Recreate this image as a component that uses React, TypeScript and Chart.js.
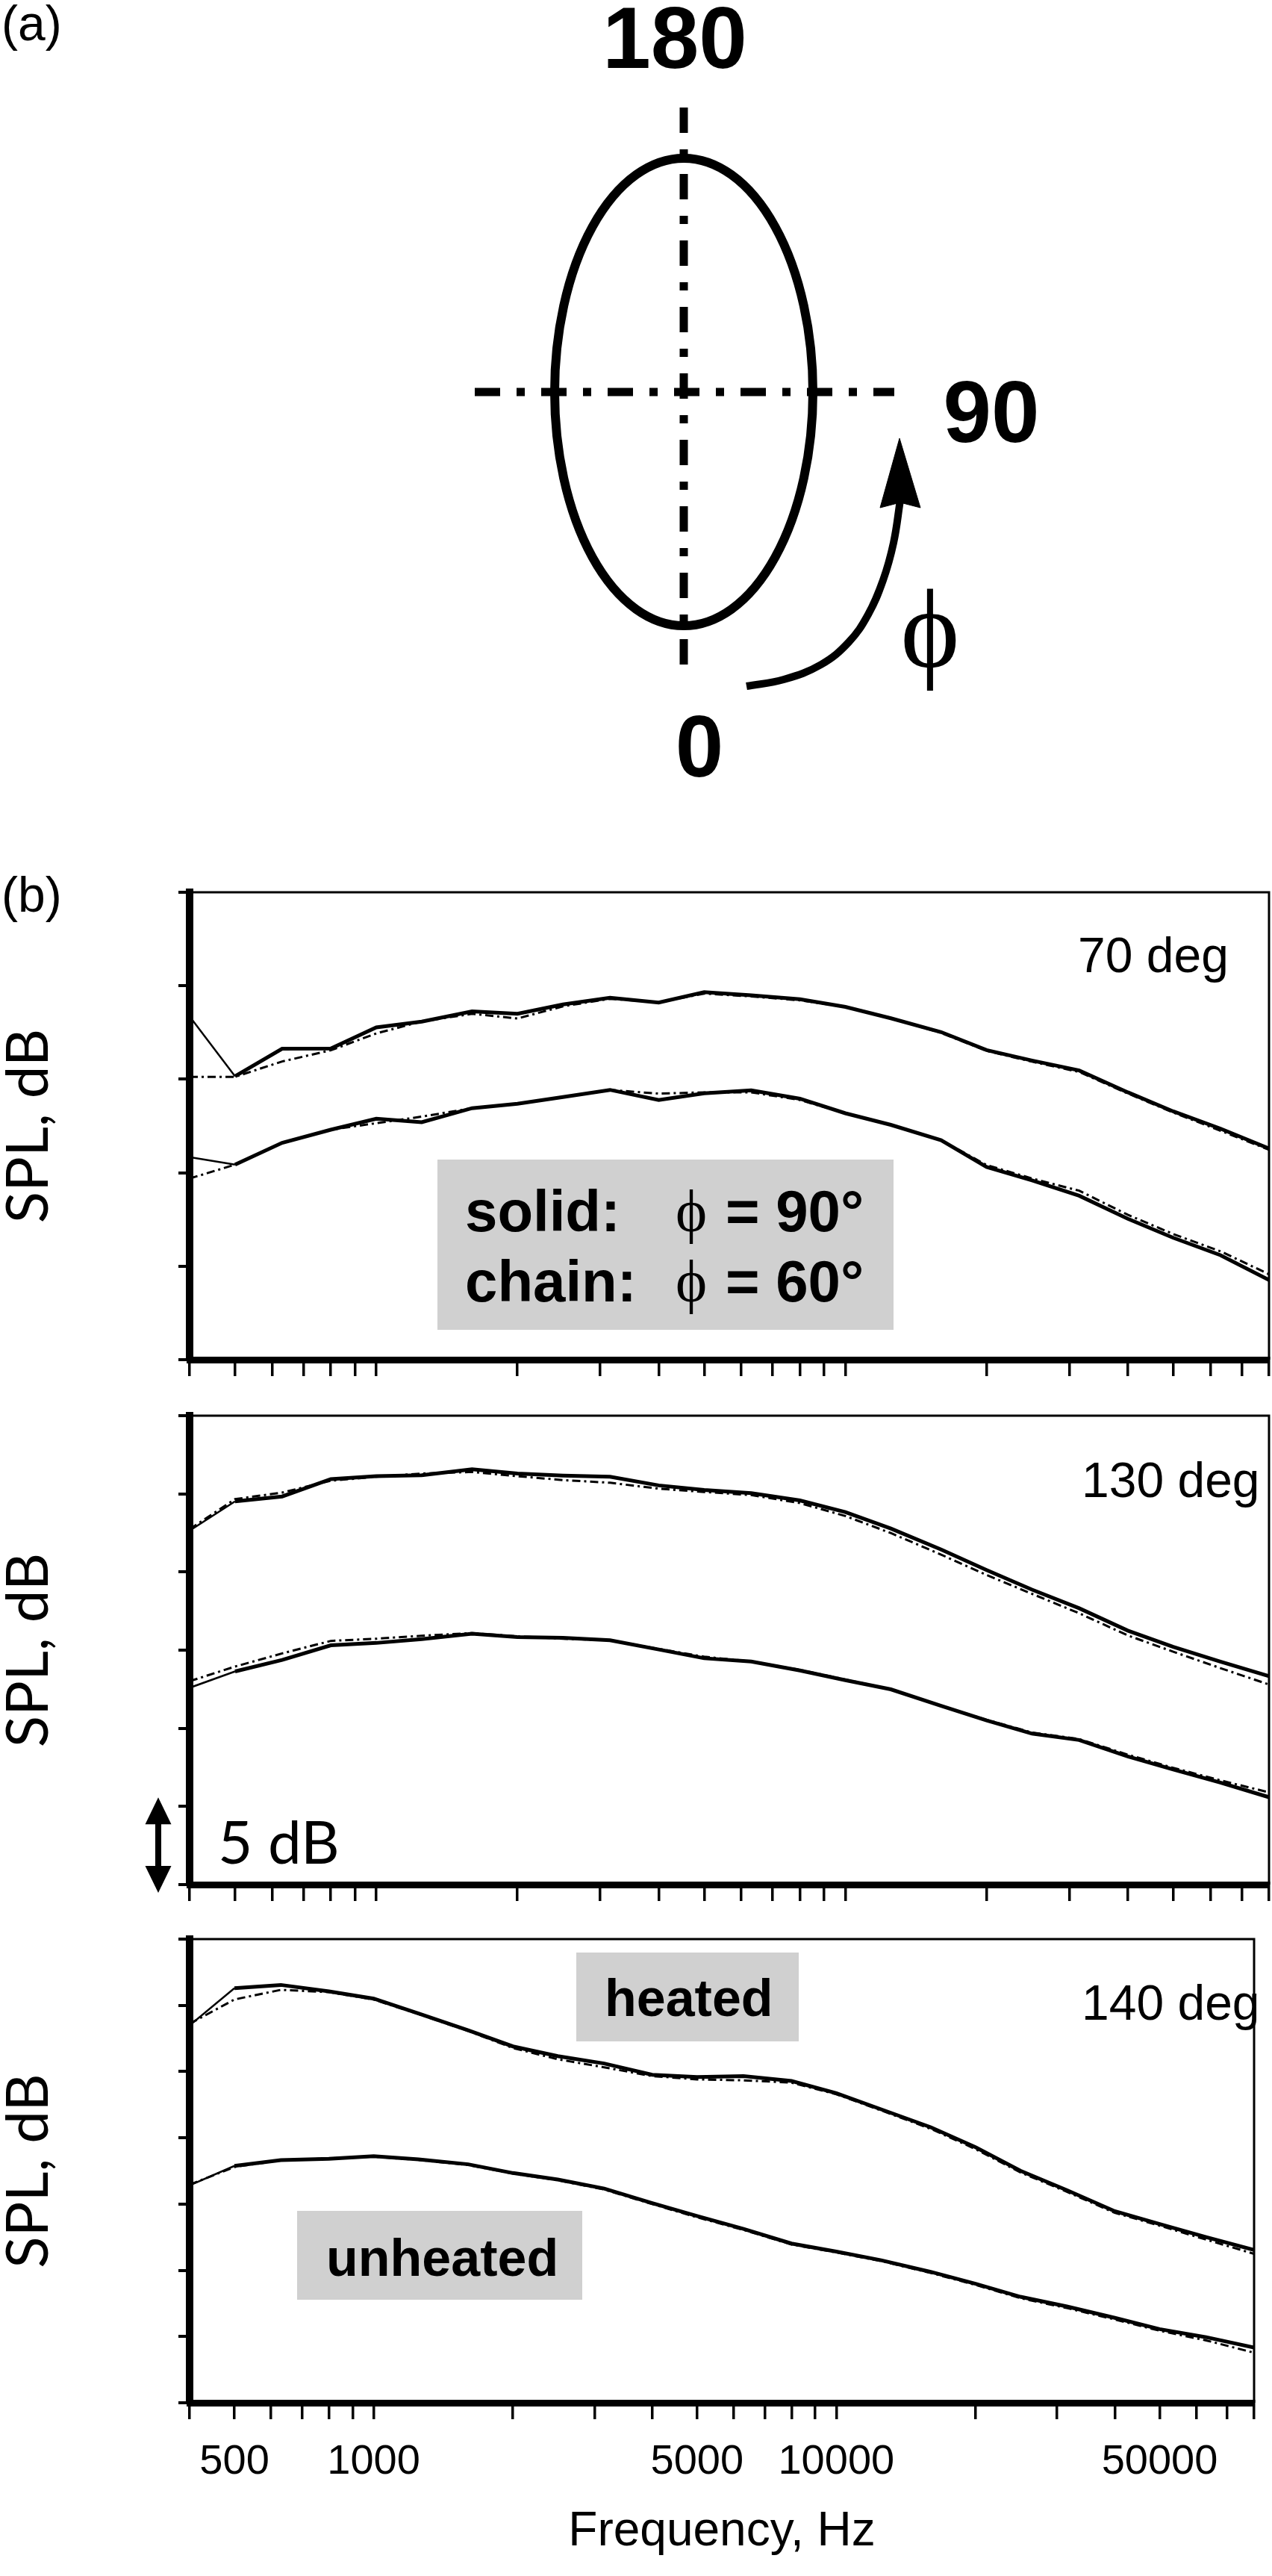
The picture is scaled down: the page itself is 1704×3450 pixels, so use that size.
import React, { useEffect, useRef } from "react";
import { Chart, registerables } from "chart.js";

Chart.register(...registerables);

// ---------------- data ----------------
const FREQ = [400, 500, 630, 800, 1000, 1250, 1600, 2000, 2500, 3150, 4000, 5000, 6300, 8000, 10000, 12500, 16000, 20000, 25000, 31500, 40000, 50000, 63000, 80000];

const X_TICKS = [400, 500, 600, 700, 800, 900, 1000, 2000, 3000, 4000, 5000, 6000, 7000, 8000, 9000, 10000, 20000, 30000, 40000, 50000, 60000, 70000, 80000];
const X_LABELS = [500, 1000, 5000, 10000, 50000];

// 70 deg panel (relative dB)
const P1_HEATED_90 = [18.36, 15.16, 16.63, 16.64, 17.77, 18.08, 18.63, 18.5, 19.0, 19.36, 19.1, 19.66, 19.49, 19.28, 18.87, 18.26, 17.52, 16.56, 16.0, 15.47, 14.3, 13.28, 12.36, 11.29];
const P1_HEATED_60 = [15.13, 15.13, 15.95, 16.55, 17.45, 18.09, 18.5, 18.25, 18.9, 19.3, 19.12, 19.58, 19.43, 19.22, 18.87, 18.26, 17.48, 16.52, 15.94, 15.39, 14.24, 13.22, 12.25, 11.23];
const P1_UNHEATED_90 = [10.83, 10.43, 11.6, 12.3, 12.89, 12.7, 13.45, 13.69, 14.05, 14.43, 13.89, 14.25, 14.41, 13.96, 13.18, 12.56, 11.74, 10.31, 9.59, 8.77, 7.54, 6.52, 5.59, 4.26];
const P1_UNHEATED_60 = [9.69, 10.43, 11.6, 12.3, 12.65, 13.0, 13.45, 13.69, 14.05, 14.43, 14.23, 14.3, 14.3, 13.89, 13.18, 12.56, 11.74, 10.41, 9.69, 9.04, 7.75, 6.72, 5.8, 4.57];

// 130 deg panel
const P2_HEATED_90 = [22.64, 24.52, 24.83, 25.94, 26.13, 26.19, 26.57, 26.3, 26.17, 26.09, 25.54, 25.25, 25.04, 24.58, 23.83, 22.78, 21.44, 20.12, 18.87, 17.68, 16.25, 15.21, 14.27, 13.33];
const P2_HEATED_60 = [22.74, 24.66, 25.08, 25.84, 26.09, 26.3, 26.4, 26.13, 25.88, 25.71, 25.33, 25.12, 24.92, 24.41, 23.58, 22.49, 21.11, 19.81, 18.6, 17.36, 15.94, 14.9, 13.85, 12.8];
const P2_UNHEATED_90 = [12.59, 13.64, 14.37, 15.31, 15.46, 15.71, 16.05, 15.84, 15.79, 15.63, 15.04, 14.48, 14.27, 13.7, 13.08, 12.49, 11.44, 10.5, 9.66, 9.25, 8.2, 7.36, 6.53, 5.59];
const P2_UNHEATED_60 = [13.01, 13.95, 14.79, 15.59, 15.73, 15.92, 16.09, 15.88, 15.73, 15.63, 15.08, 14.58, 14.27, 13.74, 13.12, 12.49, 11.44, 10.54, 9.73, 9.31, 8.31, 7.47, 6.67, 5.9];

// 140 deg panel
const P3_HEATED_90 = [28.49, 31.29, 31.54, 31.05, 30.51, 29.39, 28.12, 26.9, 26.17, 25.61, 24.76, 24.59, 24.66, 24.29, 23.37, 22.15, 20.8, 19.29, 17.51, 16.05, 14.46, 13.49, 12.51, 11.54];
const P3_HEATED_60 = [28.61, 30.44, 31.17, 31.0, 30.44, 29.34, 28.07, 26.78, 25.93, 25.32, 24.66, 24.41, 24.34, 24.17, 23.29, 22.07, 20.68, 19.15, 17.39, 15.93, 14.34, 13.37, 12.32, 11.24];
const P3_UNHEATED_90 = [16.41, 17.88, 18.32, 18.41, 18.61, 18.37, 18.0, 17.34, 16.85, 16.17, 15.07, 14.1, 13.12, 12.02, 11.41, 10.76, 9.88, 8.98, 8.0, 7.27, 6.41, 5.56, 4.95, 4.17];
const P3_UNHEATED_60 = [16.46, 17.8, 18.3, 18.45, 18.58, 18.33, 17.95, 17.3, 16.8, 16.1, 15.0, 14.0, 13.05, 11.95, 11.35, 10.7, 9.8, 8.9, 7.9, 7.15, 6.29, 5.44, 4.71, 3.78];

// schematic (a), in diagram units
const DIAG_V_LINE = [{ x: 0, y: 3.81 }, { x: 0, y: -3.84 }];
const DIAG_H_LINE = [{ x: -2.8, y: 0 }, { x: 2.82, y: 0 }];
const ARROW_PATH = [
  { x: 0.84, y: -3.94 }, { x: 1.34, y: -3.85 }, { x: 1.84, y: -3.65 }, { x: 2.21, y: -3.35 },
  { x: 2.47, y: -2.98 }, { x: 2.67, y: -2.52 }, { x: 2.81, y: -2.02 }, { x: 2.9, y: -1.45 },
];
const ARROW_HEAD = [
  { x: 2.89, y: -0.62 }, { x: 3.17, y: -1.55 }, { x: 2.9, y: -1.48 }, { x: 2.63, y: -1.55 }, { x: 2.89, y: -0.62 },
];
const ELLIPSE = { cx: 0, cy: 0, rx: 1.73, ry: 3.13 };
const DIAG_LABELS = [
  { text: "180", x: -0.12, y: 4.34 },
  { text: "90", x: 4.12, y: -0.67 },
  { text: "0", x: 0.21, y: -5.15 },
];
const PHI_LABEL = { text: "\u03D5", x: 3.3, y: -3.68 };

// ---------------- style ----------------
const SANS = '"Liberation Sans", Arial, Helvetica, sans-serif';
const LATO = 'Lato, "Open Sans", sans-serif';
const SERIF = '"Liberation Serif", "DejaVu Serif", "Times New Roman", serif';
const W = 1704;
const DIAG_DASH = [34, 22, 11, 22];

function Diagram() {
  const ref = useRef<HTMLCanvasElement | null>(null);
  useEffect(() => {
    const canvas = ref.current!;
    const deco = {
      id: "diagDeco",
      beforeDatasetsDraw(chart: any) {
        const { ctx } = chart;
        const xs = chart.scales.x, ys = chart.scales.y;
        const cx = xs.getPixelForValue(ELLIPSE.cx), cy = ys.getPixelForValue(ELLIPSE.cy);
        const rx = xs.getPixelForValue(ELLIPSE.cx + ELLIPSE.rx) - cx;
        const ry = cy - ys.getPixelForValue(ELLIPSE.cy + ELLIPSE.ry);
        ctx.save();
        ctx.beginPath();
        ctx.ellipse(cx, cy, rx, ry, 0, 0, Math.PI * 2);
        ctx.lineWidth = 12;
        ctx.strokeStyle = "#000";
        ctx.stroke();
        ctx.restore();
      },
      afterDraw(chart: any) {
        const { ctx } = chart;
        const xs = chart.scales.x, ys = chart.scales.y;
        ctx.save();
        ctx.fillStyle = "#000";
        ctx.textBaseline = "alphabetic";
        ctx.textAlign = "left";
        ctx.font = `66px ${SANS}`;
        ctx.fillText("(a)", 2, 54);
        ctx.textAlign = "center";
        ctx.font = `bold 116px ${SANS}`;
        for (const l of DIAG_LABELS) ctx.fillText(l.text, xs.getPixelForValue(l.x), ys.getPixelForValue(l.y));
        ctx.font = `150px ${SERIF}`;
        ctx.fillText(PHI_LABEL.text, xs.getPixelForValue(PHI_LABEL.x), ys.getPixelForValue(PHI_LABEL.y));
        ctx.restore();
      },
    };
    const chart = new Chart(canvas, {
      type: "scatter",
      data: {
        datasets: [
          { data: DIAG_V_LINE, showLine: true, borderColor: "#000", borderWidth: 11, borderDash: DIAG_DASH, borderCapStyle: "butt", pointRadius: 0 },
          { data: DIAG_H_LINE, showLine: true, borderColor: "#000", borderWidth: 11, borderDash: DIAG_DASH, borderCapStyle: "butt", pointRadius: 0 },
          { data: ARROW_PATH, showLine: true, borderColor: "#000", borderWidth: 10, tension: 0.4, pointRadius: 0 },
          { data: ARROW_HEAD, showLine: true, borderColor: "#000", borderWidth: 1, backgroundColor: "#000", fill: "shape", pointRadius: 0 },
        ],
      } as any,
      options: {
        animation: false,
        responsive: false,
        devicePixelRatio: 1,
        layout: { padding: 0 },
        plugins: { legend: { display: false }, tooltip: { enabled: false } },
        scales: {
          x: { type: "linear", min: -9.16, max: 7.88, display: false },
          y: { type: "linear", min: -6.25, max: 5.25, display: false },
        },
      } as any,
      plugins: [deco],
    });
    return () => chart.destroy();
  }, []);
  return <canvas ref={ref} width={W} height={1150} style={{ position: "absolute", left: 0, top: 0, width: W, height: 1150 }} />;
}

type Box = { x: number; y: number; w: number; h: number };
type Txt = { text: string; x: number; y: number; font: string };
type PanelProps = {
  top: number;
  padTop: number;
  plotH: number;
  xHeight: number;
  yMax: number;
  heated90: number[];
  heated60: number[];
  unheated90: number[];
  unheated60: number[];
  showXLabels: boolean;
  boxes: Box[];
  texts: Txt[];
  canvasTexts?: Txt[];
  scaleArrow?: boolean;
};

function pts(vals: number[]) {
  return FREQ.map((f, i) => ({ x: f, y: vals[i] }));
}

function Panel(p: PanelProps) {
  const ref = useRef<HTMLCanvasElement | null>(null);
  const height = p.padTop + p.plotH + p.xHeight;
  useEffect(() => {
    const canvas = ref.current!;
    const deco = {
      id: "panelDeco",
      beforeDatasetsDraw(chart: any) {
        const { ctx, chartArea } = chart;
        ctx.save();
        ctx.fillStyle = "#d0d0d0";
        for (const b of p.boxes) ctx.fillRect(chartArea.left + b.x, chartArea.top + b.y, b.w, b.h);
        ctx.restore();
      },
      afterDraw(chart: any) {
        const { ctx, chartArea } = chart;
        ctx.save();
        ctx.strokeStyle = "#000";
        ctx.lineWidth = 3;
        ctx.beginPath();
        ctx.moveTo(chartArea.left, chartArea.top);
        ctx.lineTo(chartArea.right, chartArea.top);
        ctx.lineTo(chartArea.right, chartArea.bottom);
        ctx.stroke();
        ctx.fillStyle = "#000";
        ctx.textAlign = "left";
        ctx.textBaseline = "alphabetic";
        for (const t of p.texts) {
          ctx.font = t.font;
          ctx.fillText(t.text, chartArea.left + t.x, chartArea.top + t.y);
        }
        for (const t of p.canvasTexts || []) {
          ctx.font = t.font;
          ctx.fillText(t.text, t.x, t.y);
        }
        if (p.scaleArrow) {
          const ys = chart.scales.y;
          const x = chartArea.left - 42;
          const yT = ys.getPixelForValue(5) - 12;
          const yB = ys.getPixelForValue(0) + 11;
          const hw = 17.5, hl = 36;
          ctx.lineWidth = 8;
          ctx.beginPath();
          ctx.moveTo(x, yT + hl - 4);
          ctx.lineTo(x, yB - hl + 4);
          ctx.stroke();
          ctx.beginPath();
          ctx.moveTo(x, yT);
          ctx.lineTo(x - hw, yT + hl);
          ctx.lineTo(x + hw, yT + hl);
          ctx.closePath();
          ctx.fill();
          ctx.beginPath();
          ctx.moveTo(x, yB);
          ctx.lineTo(x - hw, yB - hl);
          ctx.lineTo(x + hw, yB - hl);
          ctx.closePath();
          ctx.fill();
        }
        ctx.restore();
      },
    };
    const solid = (v: number[]) => ({
      data: pts(v),
      borderColor: "#000",
      borderWidth: 5,
      pointRadius: 0,
      tension: 0,
      fill: false,
      segment: { borderWidth: (c: any) => (c.p0DataIndex === 0 ? 2.5 : 5) },
    });
    const chain = (v: number[]) => ({
      data: pts(v),
      borderColor: "#000",
      borderWidth: 3,
      borderDash: [11, 5, 3, 5],
      pointRadius: 0,
      tension: 0,
      fill: false,
    });
    const yMax = p.yMax;
    const chart = new Chart(canvas, {
      type: "line",
      data: {
        datasets: [solid(p.heated90), chain(p.heated60), solid(p.unheated90), chain(p.unheated60)],
      } as any,
      options: {
        animation: false,
        responsive: false,
        devicePixelRatio: 1,
        layout: { padding: { top: p.padTop, right: 4, left: 0, bottom: 0 } },
        plugins: { legend: { display: false }, tooltip: { enabled: false }, title: { display: false } },
        scales: {
          x: {
            type: "logarithmic",
            min: 400,
            max: 80000,
            position: "bottom",
            afterBuildTicks: (s: any) => {
              s.ticks = X_TICKS.map((v) => ({ value: v }));
            },
            afterFit: (s: any) => {
              s.height = p.xHeight;
            },
            ticks: {
              display: p.showXLabels,
              autoSkip: false,
              maxRotation: 0,
              minRotation: 0,
              padding: 24,
              color: "#000",
              font: { family: SANS, size: 56 },
              callback: (v: any) => (X_LABELS.includes(Number(v)) ? String(v) : ""),
            },
            grid: { drawOnChartArea: false, drawTicks: true, tickLength: 22, tickWidth: 3.5, tickColor: "#000", lineWidth: 3.5, color: "#000" },
            border: { display: true, width: 9, color: "#000" },
            title: {
              display: p.showXLabels,
              text: "Frequency, Hz",
              color: "#000",
              font: { family: SANS, size: 64, lineHeight: 1.2 },
              padding: { top: 0, bottom: 10 },
            },
          },
          y: {
            type: "linear",
            min: 0,
            max: yMax,
            position: "left",
            afterBuildTicks: (s: any) => {
              const t: any[] = [];
              for (let v = 0; v <= yMax; v += 5) t.push({ value: v });
              s.ticks = t;
            },
            afterFit: (s: any) => {
              s.width = 254;
            },
            ticks: { display: false },
            grid: { drawOnChartArea: false, drawTicks: true, tickLength: 15, tickWidth: 4, tickColor: "#000", lineWidth: 4, color: "#000" },
            border: { display: true, width: 10, color: "#000" },
            title: {
              display: true,
              text: "SPL, dB",
              color: "#000",
              font: { family: LATO, size: 78, lineHeight: 1 },
              padding: 0,
            },
          },
        },
      } as any,
      plugins: [deco],
    });
    return () => chart.destroy();
  }, []);
  return <canvas ref={ref} width={W} height={height} style={{ position: "absolute", left: 0, top: p.top, width: W, height }} />;
}

const DEG_FONT = `66px ${SANS}`;
const LEG_FONT = `bold 78px ${SANS}`;
const PHI_FONT = `80px ${SERIF}`;
const TAG_FONT = `bold 70px ${SANS}`;

export default function App() {
  useEffect(() => {
    document.body.style.margin = "0";
    document.body.style.background = "#fff";
  }, []);
  return (
    <div style={{ position: "relative", width: W, height: 3450, background: "#fff", overflow: "hidden" }}>
      <Diagram />
      <Panel
        top={1150}
        padTop={45}
        plotH={626}
        xHeight={40}
        yMax={25}
        heated90={P1_HEATED_90}
        heated60={P1_HEATED_60}
        unheated90={P1_UNHEATED_90}
        unheated60={P1_UNHEATED_60}
        showXLabels={false}
        boxes={[{ x: 332, y: 358, w: 611, h: 228 }]}
        texts={[
          { text: "70 deg", x: 1190, y: 107, font: DEG_FONT },
          { text: "solid:", x: 369, y: 454, font: LEG_FONT },
          { text: "\u03D5", x: 651, y: 454, font: PHI_FONT },
          { text: "= 90\u00B0", x: 718, y: 454, font: LEG_FONT },
          { text: "chain:", x: 369, y: 548, font: LEG_FONT },
          { text: "\u03D5", x: 651, y: 548, font: PHI_FONT },
          { text: "= 60\u00B0", x: 718, y: 548, font: LEG_FONT },
        ]}
        canvasTexts={[{ text: "(b)", x: 2, y: 71, font: `66px ${SANS}` }]}
      />
      <Panel
        top={1861}
        padTop={35}
        plotH={628}
        xHeight={36}
        yMax={30}
        heated90={P2_HEATED_90}
        heated60={P2_HEATED_60}
        unheated90={P2_UNHEATED_90}
        unheated60={P2_UNHEATED_60}
        showXLabels={false}
        boxes={[]}
        texts={[
          { text: "130 deg", x: 1195, y: 109, font: DEG_FONT },
          { text: "5 dB", x: 38, y: 600, font: `80px ${LATO}` },
        ]}
        scaleArrow={true}
      />
      <Panel
        top={2560}
        padTop={37}
        plotH={621}
        xHeight={222}
        yMax={35}
        heated90={P3_HEATED_90}
        heated60={P3_HEATED_60}
        unheated90={P3_UNHEATED_90}
        unheated60={P3_UNHEATED_60}
        showXLabels={true}
        boxes={[
          { x: 518, y: 18, w: 298, h: 119 },
          { x: 144, y: 364, w: 382, h: 119 },
        ]}
        texts={[
          { text: "140 deg", x: 1195, y: 108, font: DEG_FONT },
          { text: "heated", x: 556, y: 103, font: TAG_FONT },
          { text: "unheated", x: 183, y: 451, font: TAG_FONT },
        ]}
      />
    </div>
  );
}
